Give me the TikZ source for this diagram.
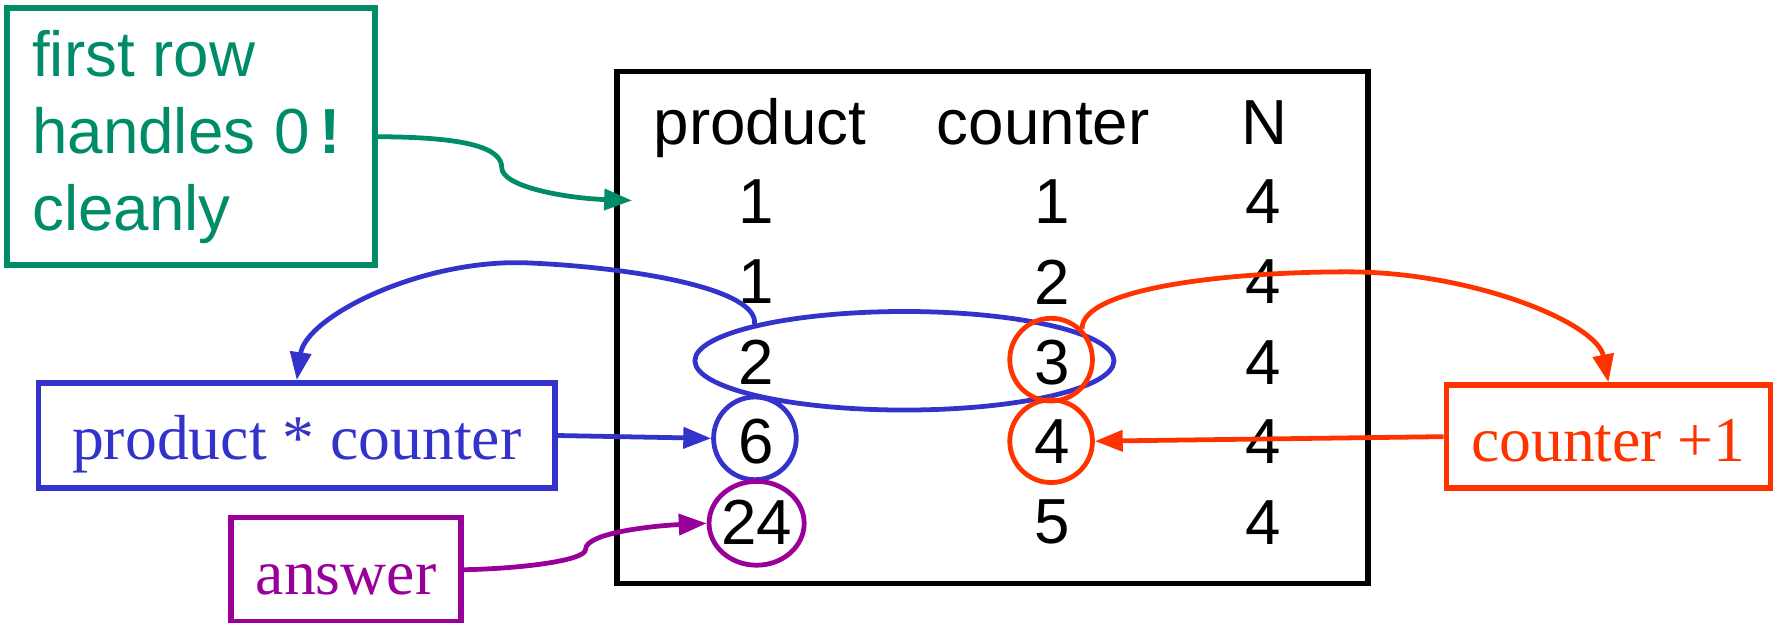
\documentclass[tikz,border=0pt]{standalone}
\usepackage{fontspec}
\setmainfont{Liberation Serif}
\setsansfont{Liberation Sans}
\setmonofont{Liberation Mono}
\usepackage{tikz}
\usetikzlibrary{arrows.meta,shapes.geometric}
\definecolor{notegreen}{RGB}{0,140,105}
\definecolor{calcblue}{RGB}{51,51,204}
\definecolor{incred}{RGB}{255,51,0}
\definecolor{anspurple}{RGB}{153,0,153}
\newcommand{\codechar}[1]{\makebox[0.6em]{#1}}
\tikzset{
  cell/.style={font=\sffamily\fontsize{16}{19}\selectfont,inner sep=0pt},
  hdr/.style={cell,anchor=base},
  ring/.style={circle,draw,line width=1.2pt,minimum size=7.3mm,inner sep=0pt},
  oval/.style={ellipse,draw,line width=1.2pt,inner sep=0pt},
  lbox/.style={rectangle,draw,line width=1.4pt,inner sep=0pt,
    font=\fontsize{16}{19}\selectfont,text height=5mm,text depth=0.7mm},
  arr/.style={-{Triangle[length=7pt,width=5.2pt]},line width=1.2pt}
}
\begin{document}
\begin{tikzpicture}
\useasboundingbox (0,0) rectangle (15.68,5.50);
% the table
\node[draw,line width=1.4pt,minimum width=6.635cm,minimum height=4.52cm] (tbl) at (8.7625,2.61) {};
\node[hdr] (hprod) at (6.71,4.22) {product};
\node[hdr] (hcnt) at (9.21,4.22) {counter};
\node[hdr] (hn) at (11.16,4.22) {N};
\node[cell] (p1) at (6.68,3.72) {1};
\node[cell] (c1) at (9.29,3.72) {1};
\node[cell] (n1) at (11.15,3.72) {4};
\node[cell] (p2) at (6.68,3.01) {1};
\node[cell] (c2) at (9.29,3.01) {2};
\node[cell] (n2) at (11.15,3.01) {4};
\node[cell] (p3) at (6.68,2.30) {2};
\node[cell] (c3) at (9.29,2.30) {3};
\node[cell] (n3) at (11.15,2.30) {4};
\node[cell] (p4) at (6.68,1.60) {6};
\node[cell] (c4) at (9.29,1.60) {4};
\node[cell] (n4) at (11.15,1.60) {4};
\node[cell] (p5) at (6.68,0.89) {24};
\node[cell] (c5) at (9.29,0.89) {5};
\node[cell] (n5) at (11.15,0.89) {4};
\coordinate (rowone) at (5.58,3.73);
% rings
\node[oval,draw=calcblue,minimum width=3.70cm,minimum height=0.87cm] (pair) at (7.985,2.315) {};
\node[ring,draw=incred] (r3) at (9.28,2.325) {};
\node[ring,draw=incred] (r4) at (9.28,1.605) {};
\node[ring,draw=calcblue] (r6) at (6.665,1.63) {};
\node[oval,draw=anspurple,minimum width=0.84cm,minimum height=0.74cm] (r24) at (6.68,0.88) {};
% side boxes
\node[draw=notegreen,text=notegreen,line width=1.4pt,minimum width=3.25cm,minimum height=2.27cm,
  align=left,inner sep=0pt,font=\sffamily\fontsize{16}{19.3}\selectfont] (note) at (1.685,4.293)
  {first row\\handles \codechar{0}\codechar{\bfseries !}\\cleanly};
\node[lbox,draw=calcblue,text=calcblue,minimum width=4.56cm,minimum height=0.93cm] (calc) at (2.62,1.655) {product * counter};
\node[lbox,draw=anspurple,text=anspurple,minimum width=2.03cm,minimum height=0.92cm] (ans) at (3.055,0.47) {answer};
\node[lbox,draw=incred,text=incred,minimum width=2.86cm,minimum height=0.91cm] (cnt) at (14.20,1.645) {counter +1};
% arrows
\draw[arr,notegreen] (note.east) .. controls (4.10,4.29) and (4.43,4.20) .. (4.43,4.02)
  .. controls (4.43,3.85) and (5.00,3.75) .. (rowone);
\draw[arr,calcblue] (pair.north west) .. controls (6.70,2.95) and (5.60,3.14) .. (4.64,3.18)
  .. controls (3.70,3.21) and (2.70,2.70) .. (calc.north);
\draw[arr,calcblue] (calc.east) -- (r6.west);
\draw[arr,incred] (r3.north east) .. controls (9.55,2.95) and (10.80,3.10) .. (11.90,3.10)
  .. controls (13.00,3.10) and (14.10,2.65) .. (cnt.north);
\draw[arr,incred] (cnt.west) -- (r4.east);
\draw[arr,anspurple] (ans.east) .. controls (4.60,0.48) and (5.17,0.55) .. (5.17,0.65)
  .. controls (5.17,0.80) and (5.80,0.86) .. (r24.west);
\end{tikzpicture}
\end{document}
